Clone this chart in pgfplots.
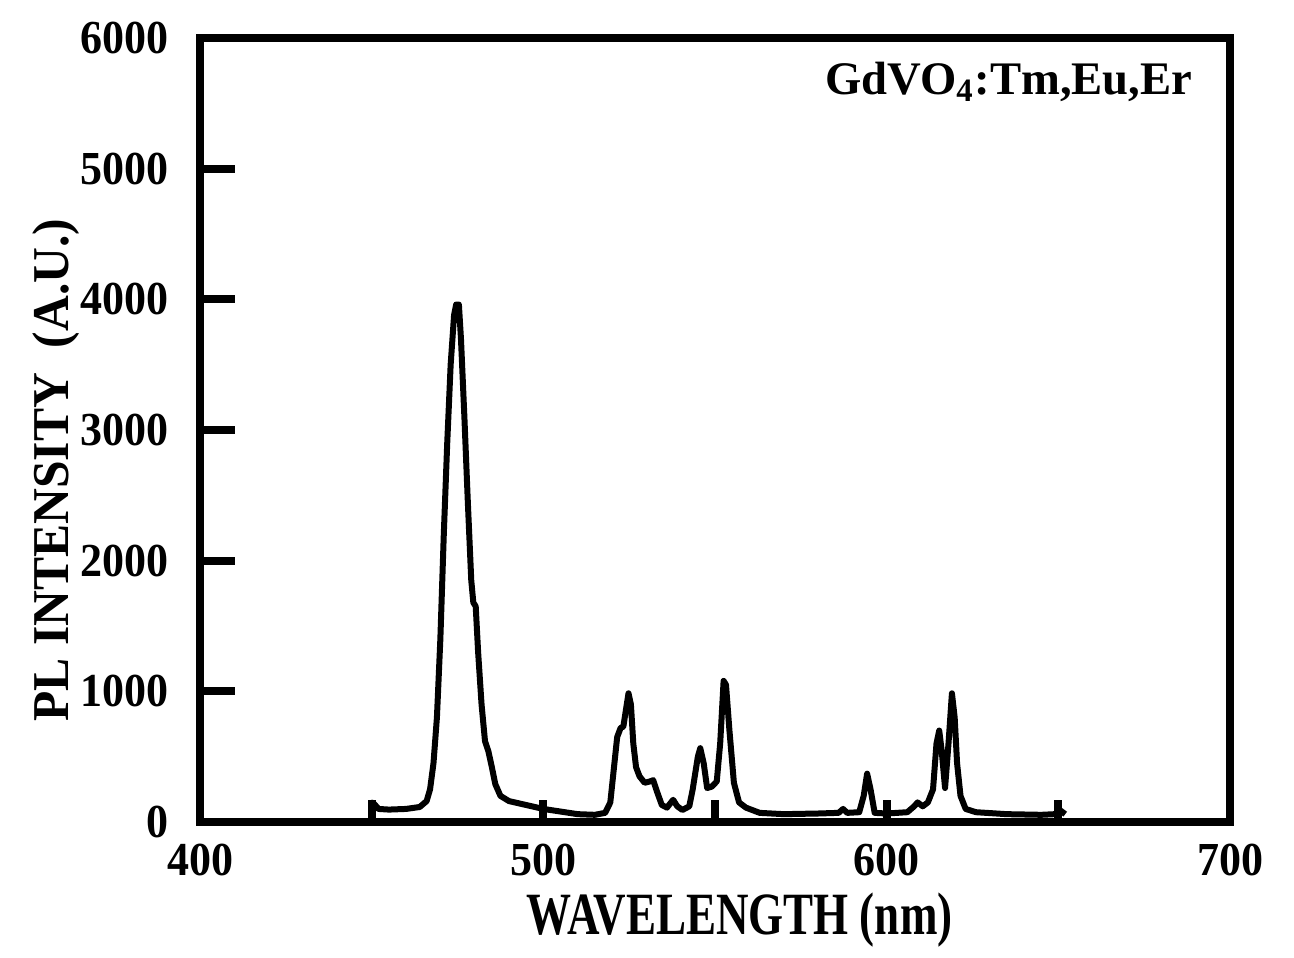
\documentclass[border=0pt]{standalone}
\usepackage{pgfplots}
\pgfplotsset{compat=1.18}
\usepackage{fontspec}
\setmainfont{Liberation Serif}
\newfontfamily\condA{Liberation Serif}[FakeStretch=0.93]
\newfontfamily\condB{Liberation Serif}[FakeStretch=0.75]
\newfontfamily\condC{Liberation Serif}[FakeStretch=0.96]
\begin{document}
\begin{tikzpicture}
\begin{axis}[
  scale only axis,
  width=309pt, height=235.2pt,
  xmin=400, xmax=700, ymin=0, ymax=6000,
  clip=false,
  xtick={400,500,600,700},
  minor xtick={450,550,650},
  ytick={0,1000,...,6000},
  tick pos=left,
  tick align=inside,
  major tick length=10.5pt,
  xtick style={/pgfplots/major tick length=6.6pt,/pgfplots/minor tick length=6.6pt},
  tick style={line width=2.4pt,black},
  minor tick style={line width=2.4pt,black},
  axis line style={line width=2.4pt},
  scaled ticks=false,
  /pgf/number format/1000 sep={},
  /pgf/number format/assume math mode=true,
  ticklabel style={font=\condA\bfseries\fontsize{14.2}{17}\selectfont},
  yticklabel style={xshift=-5.8pt},
  xticklabel style={yshift=-3.1pt},
  xlabel={\condB\bfseries\fontsize{18}{21}\selectfont WAVELENGTH (nm)},
  xlabel style={at={(axis description cs:0.524,0)},anchor=center,yshift=-29.3pt},
  ylabel={\condC\bfseries\fontsize{15.5}{18}\selectfont PL INTENSITY\ \ (A.U.)},
  ylabel style={at={(axis description cs:0,0.449)},anchor=center,rotate=0,yshift=43.2pt},
]
\addplot[black, line width=1.8pt, line join=round] coordinates {
(450,60)(450.3,150)(451,130)(452,100)(455,95)(460,100)(464,115)(466,160)
(467,250)(468,450)(469,800)(470,1400)(471,2200)(472,2900)(473,3500)(474,3880)
(474.6,3960)(475.4,3960)(476,3700)(477,3100)(478,2450)(479,1850)(479.6,1680)
(480.3,1650)(481,1300)(482,900)(483,620)(484,540)(485,420)(486,290)(487.5,200)
(490,160)(495,130)(500,100)(505,80)(510,60)(515,55)(518,70)(519.5,150)
(520.5,400)(521.5,650)(522.5,720)(523.3,730)(524,850)(524.8,985)(525.5,900)
(526.2,600)(527,420)(528,350)(529.5,300)(531,310)(532,320)(533,240)(534.5,130)
(536,110)(537.8,170)(539,120)(540.5,92)(542.5,120)(543.5,250)(545,500)
(545.7,565)(546.7,450)(547.7,260)(549,270)(550.5,310)(551.5,600)(552.5,1080)
(553.2,1050)(554.2,700)(555.5,300)(557,150)(559,110)(563,70)(570,60)(580,65)
(586,70)(587.3,100)(588.5,70)(592,75)(593.3,200)(594.3,370)(595.3,250)
(596.5,70)(600,65)(606,75)(608,120)(609,150)(610.5,120)(612,150)(613.5,250)
(614.5,600)(615.3,700)(616,550)(617,260)(618,600)(619,985)(619.8,800)
(620.5,450)(621.5,200)(623,100)(626,75)(635,60)(645,55)(649,60)(650.5,90)(652,60)
};
\node[anchor=east, inner sep=0pt, font=\bfseries\fontsize{14}{16}\selectfont]
  at (axis description cs:0.964,0.944) {GdVO\textsubscript{4}:Tm,Eu,Er};
\path (axis description cs:-0.1942,-0.162) rectangle (axis description cs:1.0621,1.0485);
\end{axis}
\end{tikzpicture}
\end{document}
